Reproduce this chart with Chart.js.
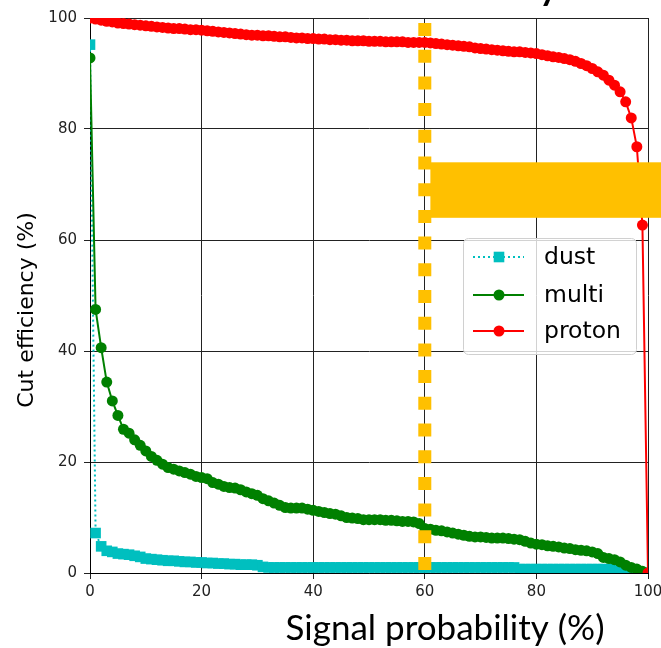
<!DOCTYPE html>
<html>
<head>
<meta charset="utf-8">
<script src="https://cdn.jsdelivr.net/npm/chart.js@4"></script>
<style>
  html, body { margin: 0; padding: 0; background: #fff; }
  canvas { display: block; }
</style>
</head>
<body>
<canvas id="chart" width="661" height="648"></canvas>
<script>
// signal probability (%) on x, cut efficiency (%) on y
const signalProb = [
  0, 1, 2, 3, 4, 5, 6, 7, 8, 9,
  10, 11, 12, 13, 14, 15, 16, 17, 18, 19,
  20, 21, 22, 23, 24, 25, 26, 27, 28, 29,
  30, 31, 32, 33, 34, 35, 36, 37, 38, 39,
  40, 41, 42, 43, 44, 45, 46, 47, 48, 49,
  50, 51, 52, 53, 54, 55, 56, 57, 58, 59,
  60, 61, 62, 63, 64, 65, 66, 67, 68, 69,
  70, 71, 72, 73, 74, 75, 76, 77, 78, 79,
  80, 81, 82, 83, 84, 85, 86, 87, 88, 89,
  90, 91, 92, 93, 94, 95, 96, 97, 98, 99,
  100
];
const dust = [
  95.2, 7.2, 4.8, 4.0, 3.8, 3.5, 3.4, 3.3, 3.1, 2.9,
  2.6, 2.5, 2.4, 2.3, 2.2, 2.2, 2.1, 2.0, 2.0, 1.9,
  1.9, 1.8, 1.8, 1.7, 1.7, 1.6, 1.6, 1.5, 1.5, 1.5,
  1.4, 1.1, 1.0, 1.0, 1.0, 1.0, 1.0, 1.0, 1.0, 1.0,
  1.0, 1.0, 1.0, 1.0, 1.0, 1.0, 1.0, 1.0, 1.0, 1.0,
  1.0, 1.0, 1.0, 1.0, 1.0, 1.0, 1.0, 1.0, 1.0, 1.0,
  1.0, 1.0, 1.0, 1.0, 1.0, 1.0, 1.0, 1.0, 1.0, 1.0,
  1.0, 1.0, 1.0, 1.0, 1.0, 1.0, 1.0, 0.7, 0.7, 0.7,
  0.7, 0.7, 0.7, 0.7, 0.7, 0.7, 0.7, 0.7, 0.7, 0.7,
  0.7, 0.7, 0.7, 0.7, 0.7, 0.7, 0.3, 0, 0, 0,
  0
];
const multi = [
  92.8, 47.5, 40.6, 34.4, 31.0, 28.4, 25.9, 25.2, 24.0, 23.0,
  22.0, 21.0, 20.3, 19.6, 19.0, 18.7, 18.4, 18.1, 17.8, 17.4,
  17.2, 17.0, 16.3, 16.0, 15.6, 15.4, 15.3, 15.0, 14.6, 14.3,
  14.0, 13.4, 13.0, 12.6, 12.2, 11.8, 11.7, 11.7, 11.7, 11.5,
  11.3, 11.1, 10.9, 10.7, 10.6, 10.3, 10.0, 9.9, 9.8, 9.6,
  9.6, 9.6, 9.6, 9.5, 9.5, 9.4, 9.3, 9.3, 9.2, 8.9,
  8.0, 7.9, 7.7, 7.6, 7.4, 7.2, 7.0, 6.8, 6.6, 6.5,
  6.5, 6.4, 6.3, 6.3, 6.3, 6.2, 6.1, 6.0, 5.7, 5.4,
  5.2, 5.1, 4.9, 4.8, 4.7, 4.5, 4.4, 4.2, 4.1, 4.0,
  3.8, 3.5, 2.8, 2.6, 2.4, 2.0, 1.4, 1.0, 0.7, 0.3,
  0
];
const proton = [
  100, 99.8, 99.6, 99.4, 99.3, 99.1, 99.0, 98.9, 98.8, 98.7,
  98.6, 98.5, 98.4, 98.3, 98.2, 98.1, 98.1, 98.0, 97.9, 97.9,
  97.8, 97.7, 97.6, 97.5, 97.4, 97.3, 97.2, 97.1, 97.0, 96.9,
  96.9, 96.8, 96.8, 96.7, 96.6, 96.6, 96.5, 96.4, 96.4, 96.3,
  96.3, 96.2, 96.2, 96.1, 96.1, 96.0, 96.0, 95.9, 95.9, 95.9,
  95.8, 95.8, 95.8, 95.7, 95.7, 95.7, 95.7, 95.6, 95.6, 95.6,
  95.6, 95.5, 95.4, 95.3, 95.2, 95.1, 95.0, 94.9, 94.8, 94.6,
  94.5, 94.4, 94.3, 94.2, 94.1, 94.0, 93.9, 93.9, 93.8, 93.7,
  93.6, 93.4, 93.2, 93.0, 92.9, 92.7, 92.5, 92.2, 91.8, 91.4,
  90.9, 90.3, 89.7, 88.8, 87.9, 86.7, 84.9, 82.0, 76.8, 62.7,
  0
];
const xTicks = [0, 20, 40, 60, 80, 100];
const yTicks = [0, 20, 40, 60, 80, 100];
const cutAt = 60;            // chosen signal probability cut
const boxFrom = 61;          // highlight box (x start, y range)
const boxY = [64, 74];

const ORANGE = '#FFC000';
const tickFont = { family: 'DejaVu Sans', size: 15 };

// legend, axis titles and the orange highlight box
const overlay = {
  id: 'overlay',
  afterDatasetsDraw(chart) {
    const ctx = chart.ctx;
    const xs = chart.scales.x, ys = chart.scales.y;
    ctx.save();

    // orange box over the right side
    const bx = xs.getPixelForValue(boxFrom);
    const by0 = ys.getPixelForValue(boxY[1]);
    const by1 = ys.getPixelForValue(boxY[0]);
    ctx.fillStyle = ORANGE;
    ctx.fillRect(bx, by0, chart.width - bx, by1 - by0);

    // legend
    const lx = 463, ly = 238, lw = 173, lh = 116;
    ctx.beginPath();
    if (ctx.roundRect) ctx.roundRect(lx + 0.5, ly + 0.5, lw, lh, 5); else ctx.rect(lx + 0.5, ly + 0.5, lw, lh);
    ctx.fillStyle = 'rgba(255,255,255,0.8)';
    ctx.fill();
    ctx.strokeStyle = '#d0d0d0';
    ctx.lineWidth = 1;
    ctx.stroke();

    const rows = [257, 295, 331];
    chart.data.datasets.slice(0, 3).forEach((ds, i) => {
      const y = rows[i];
      ctx.save();
      ctx.strokeStyle = ds.borderColor;
      ctx.lineWidth = ds.borderWidth;
      ctx.setLineDash(ds.borderDash || []);
      ctx.beginPath();
      ctx.moveTo(473, y);
      ctx.lineTo(524, y);
      ctx.stroke();
      ctx.setLineDash([]);
      ctx.fillStyle = ds.pointBackgroundColor;
      ctx.strokeStyle = ds.pointBorderColor;
      Chart.helpers.drawPoint(ctx, {
        pointStyle: ds.pointStyle, radius: ds.pointRadius, rotation: 0,
        borderWidth: ds.pointBorderWidth
      }, 499, y);
      ctx.restore();
      ctx.fillStyle = '#000';
      ctx.font = '23.5px "DejaVu Sans"';
      ctx.textAlign = 'left';
      ctx.textBaseline = 'middle';
      ctx.fillText(ds.label, 544, y + 1);
    });

    // axis titles
    ctx.fillStyle = '#000';
    ctx.font = '35px Lato';
    ctx.textAlign = 'center';
    ctx.textBaseline = 'alphabetic';
    ctx.fillText('Signal probability (%)', 445, 640);

    ctx.save();
    ctx.translate(27, 310);
    ctx.rotate(-Math.PI / 2);
    ctx.font = '22px "DejaVu Sans"';
    ctx.textBaseline = 'middle';
    ctx.fillText('Cut efficiency (%)', 0, 0);
    ctx.restore();

    // slide title, cut off by the top edge
    ctx.font = 'bold 36px Lato';
    ctx.textAlign = 'right';
    ctx.textBaseline = 'alphabetic';
    ctx.fillText('Cut efficiency', 558, 0);

    ctx.restore();
  }
};

const cfg = {
  type: 'line',
  data: {
    labels: signalProb,
    datasets: [{
      label: 'dust',
      data: dust,
      borderColor: '#00BFBF',
      borderWidth: 2,
      borderDash: [2, 3],
      pointStyle: 'rect',
      pointRadius: 7.5,
      pointBorderWidth: 0,
      pointBackgroundColor: '#00BFBF',
      pointBorderColor: '#00BFBF',
      order: 3
    }, {
      label: 'multi',
      data: multi,
      borderColor: '#008000',
      borderWidth: 2,
      pointStyle: 'circle',
      pointRadius: 5.5,
      pointBorderWidth: 0,
      pointBackgroundColor: '#008000',
      pointBorderColor: '#008000',
      order: 2
    }, {
      label: 'proton',
      data: proton,
      borderColor: '#FF0000',
      borderWidth: 2,
      pointStyle: 'circle',
      pointRadius: 5.5,
      pointBorderWidth: 0,
      pointBackgroundColor: '#FF0000',
      pointBorderColor: '#FF0000',
      order: 1
    }, {
      label: 'cut',
      data: [{ x: cutAt, y: yTicks[yTicks.length - 1] }, { x: cutAt, y: yTicks[0] }],
      borderColor: ORANGE,
      borderWidth: 13,
      borderDash: [13, 13.7],
      borderDashOffset: 21.7,
      pointRadius: 0,
      order: 0
    }]
  },
  options: {
    responsive: false,
    animation: false,
    devicePixelRatio: 1,
    layout: { padding: { top: 18, right: 13, left: 0, bottom: 0 } },
    elements: { line: { tension: 0 } },
    plugins: {
      legend: { display: false },
      tooltip: { enabled: false },
      title: { display: false }
    },
    scales: {
      x: {
        type: 'linear',
        min: xTicks[0],
        max: xTicks[xTicks.length - 1],
        afterBuildTicks: s => { s.ticks = xTicks.map(v => ({ value: v })); },
        afterFit: s => { s.height = 75; s.paddingLeft = 0; s.paddingRight = 0; },
        ticks: { font: tickFont, color: '#222', padding: 4, maxRotation: 0 },
        grid: { color: '#222', lineWidth: 1, tickLength: 6, tickColor: '#222' },
        border: { color: '#000', width: 1 }
      },
      y: {
        type: 'linear',
        min: yTicks[0],
        max: yTicks[yTicks.length - 1],
        afterBuildTicks: s => { s.ticks = yTicks.map(v => ({ value: v })); },
        afterFit: s => { s.width = 90; s.paddingTop = 0; s.paddingBottom = 0; },
        ticks: { font: tickFont, color: '#222', padding: 7 },
        grid: { color: '#222', lineWidth: 1, tickLength: 6, tickColor: '#222' },
        border: { color: '#000', width: 1 }
      }
    }
  },
  plugins: [overlay]
};

const canvas = document.getElementById('chart');
const myChart = new Chart(canvas, cfg);
</script>
</body>
</html>
